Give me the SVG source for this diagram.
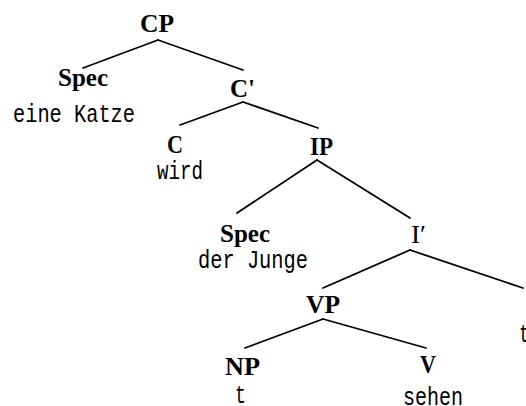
<svg xmlns="http://www.w3.org/2000/svg" width="526" height="406" viewBox="0 0 526 406">
<style>
.cat{font-family:"Liberation Serif","Times New Roman",serif;font-size:25px;font-weight:bold;fill:#000}
.catn{font-family:"Liberation Serif","Times New Roman",serif;font-size:25px;font-weight:normal;fill:#000}
.w{font-family:"Liberation Mono","Courier New",monospace;font-size:25px;fill:#000}
.e{stroke:#000;stroke-width:1.8;fill:none;stroke-linecap:round}
</style>
<rect width="526" height="406" fill="#fff"/>
<g id="connectors">
<line class="e" x1="158" y1="40" x2="83" y2="68"/>
<line class="e" x1="158" y1="40" x2="243" y2="70"/>
<line class="e" x1="243" y1="102" x2="180" y2="125"/>
<line class="e" x1="243" y1="102" x2="318" y2="128"/>
<line class="e" x1="317" y1="160" x2="237" y2="213"/>
<line class="e" x1="317" y1="160" x2="410" y2="218"/>
<line class="e" x1="410" y1="250" x2="323" y2="288"/>
<line class="e" x1="410" y1="250" x2="523" y2="288"/>
<line class="e" x1="323" y1="319" x2="245" y2="348"/>
<line class="e" x1="323" y1="319" x2="426" y2="348"/>
</g>
<g id="CP"><text class="cat" x="140" y="32" textLength="34" lengthAdjust="spacingAndGlyphs">CP</text></g>
<g id="SpecC"><text class="cat" x="58" y="86" textLength="50" lengthAdjust="spacingAndGlyphs">Spec</text>
<text class="w" x="13" y="122" textLength="122" lengthAdjust="spacingAndGlyphs">eine Katze</text></g>
<g id="Cbar"><text class="cat" x="230" y="97" textLength="25" lengthAdjust="spacingAndGlyphs">C'</text></g>
<g id="C"><text class="cat" x="167" y="153" textLength="16" lengthAdjust="spacingAndGlyphs">C</text>
<text class="w" x="157" y="179" textLength="46" lengthAdjust="spacingAndGlyphs">wird</text></g>
<g id="IP"><text class="cat" x="310" y="155" textLength="23" lengthAdjust="spacingAndGlyphs">IP</text></g>
<g id="SpecI"><text class="cat" x="220" y="242" textLength="50" lengthAdjust="spacingAndGlyphs">Spec</text>
<text class="w" x="198" y="268" textLength="110" lengthAdjust="spacingAndGlyphs">der Junge</text></g>
<g id="Ibar"><text class="catn" x="411" y="243" textLength="15" lengthAdjust="spacingAndGlyphs">I′</text></g>
<g id="VP"><text class="cat" x="306" y="313" textLength="34" lengthAdjust="spacingAndGlyphs">VP</text></g>
<g id="NP"><text class="cat" x="225" y="375" textLength="35" lengthAdjust="spacingAndGlyphs">NP</text>
<text class="w" x="235" y="403" textLength="11" lengthAdjust="spacingAndGlyphs">t</text></g>
<g id="V"><text class="cat" x="420" y="373" textLength="16" lengthAdjust="spacingAndGlyphs">V</text>
<text class="w" x="403" y="405" textLength="60" lengthAdjust="spacingAndGlyphs">sehen</text></g>
<g id="I"><text class="w" x="519" y="342" textLength="11" lengthAdjust="spacingAndGlyphs">t</text></g>
</svg>
